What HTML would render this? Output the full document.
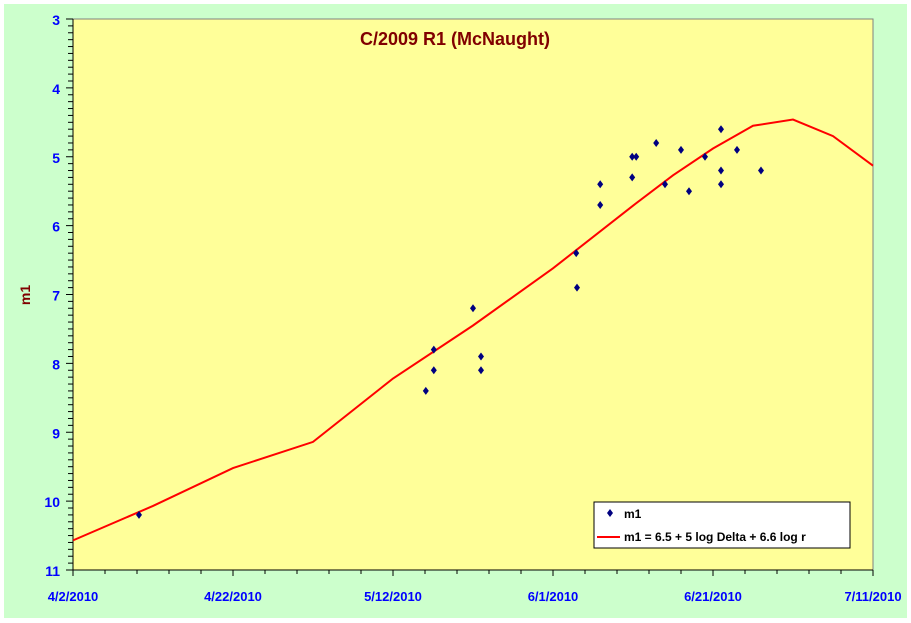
<!DOCTYPE html>
<html><head><meta charset="utf-8"><style>
body{margin:0;background:#fff;width:911px;height:623px;overflow:hidden}
svg{display:block;font-family:"Liberation Sans",Arial,sans-serif}
</style></head><body>
<svg width="911" height="623">
<rect x="4" y="4" width="903" height="614" fill="#ccffcc"/>
<rect x="73" y="19" width="800" height="551" fill="#ffff99" stroke="#808080" stroke-width="1"/>
<text x="455" y="45" text-anchor="middle" font-size="18" font-weight="bold" fill="#800000">C/2009 R1 (McNaught)</text>
<text transform="translate(30,295) rotate(-90)" text-anchor="middle" font-size="14" font-weight="bold" fill="#800000">m1</text>
<g id="axes"></g>
<g id="curve"></g>
<g id="points"></g>
<g>
<rect x="594" y="502" width="256" height="46" fill="#fff" stroke="#000" stroke-width="1"/>
<path d="M610 509 l3 4 l-3 4 l-3 -4z" fill="#000080"/>
<text x="624" y="518" font-size="12" font-weight="bold">m1</text>
<line x1="597" y1="537" x2="620" y2="537" stroke="#ff0000" stroke-width="2"/>
<text x="624" y="541" font-size="12" font-weight="bold">m1 = 6.5 + 5 log Delta + 6.6 log r</text>
</g>
</svg>
<script>
const xTickLabels=["4/2/2010","4/22/2010","5/12/2010","6/1/2010","6/21/2010","7/11/2010"];
const yTickLabels=[3,4,5,6,7,8,9,10,11];
const obsDays=[8.25,44.1,45.1,45.1,50,51,51,62.9,63,65.9,65.9,69.9,70.4,69.9,72.9,74,76,77,79,81,81,81,83,86];
const obsMag=[10.2,8.4,8.1,7.8,7.2,7.9,8.1,6.4,6.9,5.4,5.7,5.0,5.0,5.3,4.8,5.4,4.9,5.5,5.0,4.6,5.2,5.4,4.9,5.2];
const curveDays=[0,10,20,30,40,50,60,70,75,80,85,90,95,100];
const curveMag=[10.57,10.07,9.52,9.14,8.22,7.45,6.62,5.71,5.27,4.88,4.55,4.46,4.7,5.13];
const NS="http://www.w3.org/2000/svg";
const X=d=>73+d*8, Y=m=>19+(m-3)*68.875;
function mk(t,a,p){const e=document.createElementNS(NS,t);for(const k in a)e.setAttribute(k,a[k]);p.appendChild(e);return e;}
const ax=document.getElementById('axes');
mk('line',{x1:73,y1:19,x2:73,y2:570,stroke:'#000'},ax);
mk('line',{x1:73,y1:570,x2:873,y2:570,stroke:'#000'},ax);
for(let i=0;i<=80;i++){const y=Y(3+i/10);const t=mk('line',{x1:i%10?68:66,y1:y,x2:73,y2:y,stroke:'#000'},ax);

}
yTickLabels.forEach(v=>{const t=mk('text',{x:60,y:Y(v)+6,'text-anchor':'end','font-size':14,'font-weight':'bold',fill:'#0000ff'},ax);t.textContent=v;

});
for(let d=0;d<=100;d+=4){const t=mk('line',{x1:X(d),y1:570,x2:X(d),y2:d%20?574:576,stroke:'#000'},ax);

}
xTickLabels.forEach((s,i)=>{const t=mk('text',{x:X(i*20),y:601,'text-anchor':'middle','font-size':13,'font-weight':'bold',fill:'#0000ff'},ax);t.textContent=s;

});
const cg=document.getElementById('curve');
let d='';curveDays.forEach((c,i)=>{d+=(i?' L':'M')+X(c)+' '+Y(curveMag[i]);});
const pth=mk('path',{d:d,fill:'none',stroke:'#ff0000','stroke-width':2},cg);


const pg=document.getElementById('points');
obsDays.forEach((o,i)=>{const x=X(o),y=Y(obsMag[i]);const p=mk('path',{d:`M${x} ${y-4} l3 4 l-3 4 l-3 -4z`,fill:'#000080'},pg);

});
</script>
</body></html>
